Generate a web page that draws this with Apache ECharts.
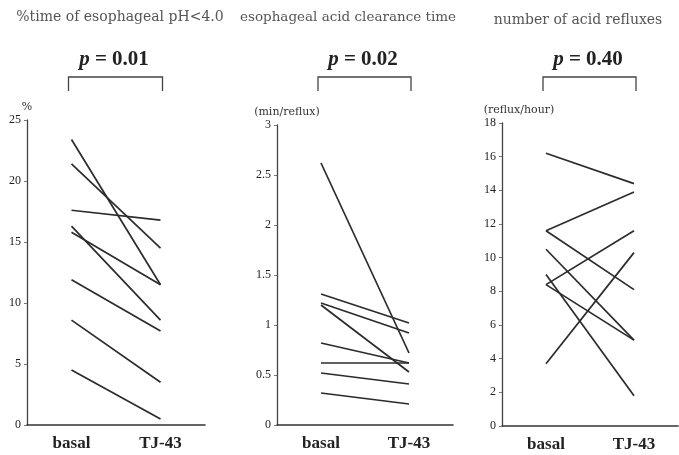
<!DOCTYPE html>
<html>
<head>
<meta charset="utf-8">
<script src="https://cdn.jsdelivr.net/npm/echarts@6/dist/echarts.min.js"></script>
<style>
  html, body { margin: 0; padding: 0; background: #fff; }
  #chart { width: 679px; height: 455px; }
</style>
</head>
<body>
<div id="chart"></div>
<script>
// categories
var categories = ['basal', 'TJ-43'];

// %time of esophageal pH<4.0 (one line per patient)
var phBasal = [23.4, 21.4, 17.6, 16.3, 15.8, 11.9, 8.6, 4.5];
var phTJ    = [11.5, 14.5, 16.8, 8.6, 11.5, 7.7, 3.5, 0.5];

// esophageal acid clearance time (min/reflux)
var clearBasal = [2.62, 1.31, 1.22, 1.2, 0.82, 0.62, 0.52, 0.32];
var clearTJ    = [0.72, 1.02, 0.92, 0.53, 0.62, 0.62, 0.41, 0.21];

// number of acid refluxes (reflux/hour)
var refluxBasal = [16.2, 11.6, 11.6, 10.5, 9.0, 8.4, 8.4, 3.7];
var refluxTJ    = [14.4, 13.9, 8.1, 5.1, 1.8, 11.6, 5.1, 10.3];

var titles = ['%time of esophageal pH<4.0', 'esophageal acid clearance time', 'number of acid refluxes'];
var pValues = ['0.01', '0.02', '0.40'];
var units = ['%', '(min/reflux)', '(reflux/hour)'];
var yMax = [25, 3, 18];
var yStep = [5, 0.5, 2];

var serif = '"Liberation Serif", "DejaVu Serif", serif';
var wideSerif = '"DejaVu Serif", "Liberation Serif", serif';
var lineColor = '#2b2b2b';

var chart = echarts.init(document.getElementById('chart'), null, {renderer: 'canvas'});

var grids = [
  {left: 27, top: 120, width: 178, height: 305},
  {left: 277, top: 125, width: 176, height: 300},
  {left: 502, top: 123, width: 176, height: 303}
];

var unitPad = [[0, 0, 0, 0], [0, 0, 0, 20], [0, 0, 0, 34]];

var xAxes = [], yAxes = [], series = [];
var panels = [[phBasal, phTJ], [clearBasal, clearTJ], [refluxBasal, refluxTJ]];

for (var i = 0; i < 3; i++) {
  xAxes.push({
    type: 'category',
    gridIndex: i,
    data: categories,
    boundaryGap: true,
    axisTick: {show: false},
    axisLine: {lineStyle: {color: '#333', width: 1.6}},
    axisLabel: {
      fontFamily: serif,
      fontWeight: 'bold',
      fontSize: 17,
      color: '#222',
      margin: 10
    }
  });
  yAxes.push({
    type: 'value',
    gridIndex: i,
    min: 0,
    max: yMax[i],
    interval: yStep[i],
    splitLine: {show: false},
    name: units[i],
    nameLocation: 'end',
    nameGap: 7,
    nameTextStyle: {
      fontFamily: wideSerif,
      fontSize: 11,
      color: '#333',
      align: 'center',
      padding: unitPad[i]
    },
    axisLine: {show: true, lineStyle: {color: '#444', width: 1.3}},
    axisTick: {show: true, length: 3, lineStyle: {color: '#777'}},
    axisLabel: {
      fontFamily: serif,
      fontSize: 12,
      color: '#222',
      margin: 6
    }
  });
  var b = panels[i][0], t = panels[i][1];
  for (var k = 0; k < b.length; k++) {
    series.push({
      type: 'line',
      xAxisIndex: i,
      yAxisIndex: i,
      data: [b[k], t[k]],
      symbol: 'none',
      silent: true,
      lineStyle: {color: lineColor, width: 1.7},
      animation: false
    });
  }
}

chart.setOption({
  animation: false,
  grid: grids,
  xAxis: xAxes,
  yAxis: yAxes,
  series: series
});

// titles, p-values and brackets, placed from the axis positions
var titleY = [17, 17, 20];
var titleX = [120, 348, 578];
var titleSize = [14, 13.5, 14];
var graphics = [];
for (var j = 0; j < 3; j++) {
  var x0 = chart.convertToPixel({xAxisIndex: j}, categories[0]);
  var x1 = chart.convertToPixel({xAxisIndex: j}, categories[1]);
  graphics.push({
    type: 'text',
    x: titleX[j],
    y: titleY[j],
    style: {
      text: titles[j],
      fontFamily: wideSerif,
      fontSize: titleSize[j],
      fill: '#555',
      align: 'center',
      verticalAlign: 'middle'
    }
  });
  graphics.push({
    type: 'text',
    x: (x0 + x1) / 2 - 2,
    y: 60,
    style: {
      text: '{i|p} = ' + pValues[j],
      fontFamily: serif,
      fontSize: 21,
      fontWeight: 'bold',
      fill: '#222',
      align: 'center',
      verticalAlign: 'middle',
      rich: {
        i: {fontFamily: serif, fontStyle: 'italic', fontWeight: 'bold', fontSize: 21, fill: '#222'}
      }
    }
  });
  graphics.push({
    type: 'polyline',
    shape: {points: [[x0 - 3, 91], [x0 - 3, 77], [x1 + 2, 77], [x1 + 2, 91]]},
    style: {stroke: '#444', lineWidth: 1.3, fill: null}
  });
}
chart.setOption({graphic: graphics});
</script>
</body>
</html>
